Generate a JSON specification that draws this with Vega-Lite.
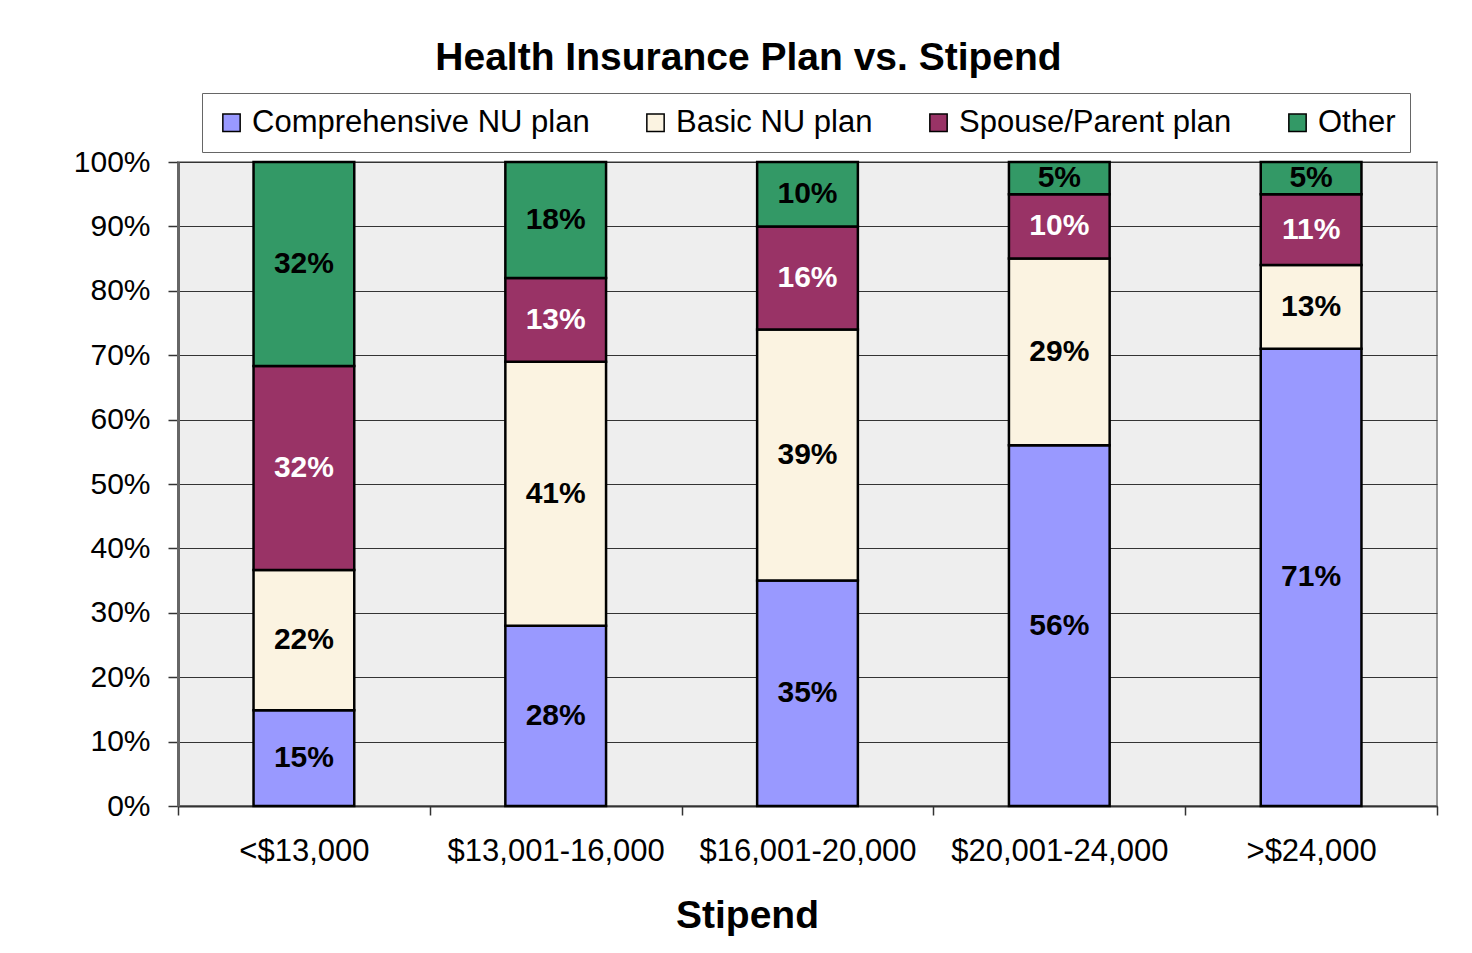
{
  "$schema": "https://vega.github.io/schema/vega-lite/v6.json",
  "width": 1259,
  "height": 644,
  "autosize": {"type": "none"},
  "padding": {"left": 178, "top": 162, "right": 35, "bottom": 147},
  "background": "white",
  "title": {
    "text": "Health Insurance Plan vs. Stipend",
    "anchor": "middle",
    "frame": "group",
    "dx": -59,
    "offset": 15,
    "font": "Liberation Sans",
    "fontSize": 39,
    "fontWeight": "bold",
    "color": "black"
  },
  "data": {
    "values": [
      {"stipend": "<$13,000", "plan": "Comprehensive NU plan", "rank": 1, "share": 0.15},
      {"stipend": "<$13,000", "plan": "Basic NU plan", "rank": 2, "share": 0.22},
      {"stipend": "<$13,000", "plan": "Spouse/Parent plan", "rank": 3, "share": 0.32},
      {"stipend": "<$13,000", "plan": "Other", "rank": 4, "share": 0.32},
      {"stipend": "$13,001-16,000", "plan": "Comprehensive NU plan", "rank": 1, "share": 0.28},
      {"stipend": "$13,001-16,000", "plan": "Basic NU plan", "rank": 2, "share": 0.41},
      {"stipend": "$13,001-16,000", "plan": "Spouse/Parent plan", "rank": 3, "share": 0.13},
      {"stipend": "$13,001-16,000", "plan": "Other", "rank": 4, "share": 0.18},
      {"stipend": "$16,001-20,000", "plan": "Comprehensive NU plan", "rank": 1, "share": 0.35},
      {"stipend": "$16,001-20,000", "plan": "Basic NU plan", "rank": 2, "share": 0.39},
      {"stipend": "$16,001-20,000", "plan": "Spouse/Parent plan", "rank": 3, "share": 0.16},
      {"stipend": "$16,001-20,000", "plan": "Other", "rank": 4, "share": 0.10},
      {"stipend": "$20,001-24,000", "plan": "Comprehensive NU plan", "rank": 1, "share": 0.56},
      {"stipend": "$20,001-24,000", "plan": "Basic NU plan", "rank": 2, "share": 0.29},
      {"stipend": "$20,001-24,000", "plan": "Spouse/Parent plan", "rank": 3, "share": 0.10},
      {"stipend": "$20,001-24,000", "plan": "Other", "rank": 4, "share": 0.05},
      {"stipend": ">$24,000", "plan": "Comprehensive NU plan", "rank": 1, "share": 0.71},
      {"stipend": ">$24,000", "plan": "Basic NU plan", "rank": 2, "share": 0.13},
      {"stipend": ">$24,000", "plan": "Spouse/Parent plan", "rank": 3, "share": 0.11},
      {"stipend": ">$24,000", "plan": "Other", "rank": 4, "share": 0.05}
    ]
  },
  "encoding": {
    "x": {
      "field": "stipend",
      "type": "nominal",
      "sort": null,
      "scale": {"paddingInner": 0, "paddingOuter": 0},
      "axis": {
        "title": "Stipend",
        "titleFont": "Liberation Sans",
        "titleFontSize": 39,
        "titleFontWeight": "bold",
        "titleColor": "black",
        "titleX": 569,
        "titleY": 121,
        "titleAlign": "center",
        "titleBaseline": "alphabetic",
        "labelAngle": 0,
        "labelFont": "Liberation Sans",
        "labelFontSize": 31,
        "labelColor": "black",
        "labelBaseline": "alphabetic",
        "labelPadding": 45,
        "labelLimit": 400,
        "tickBand": "extent",
        "ticks": true,
        "tickSize": 9,
        "tickColor": "#333",
        "tickWidth": 1.5,
        "domainColor": "#333",
        "domainWidth": 2,
        "grid": false
      }
    },
    "y": {
      "field": "share",
      "type": "quantitative",
      "stack": "normalize",
      "scale": {"domain": [0, 1]},
      "axis": {
        "title": null,
        "values": [0, 0.1, 0.2, 0.3, 0.4, 0.5, 0.6, 0.7, 0.8, 0.9, 1],
        "format": ".0%",
        "labelFont": "Liberation Sans",
        "labelFontSize": 30,
        "labelColor": "black",
        "labelPadding": 18,
        "tickSize": 10,
        "tickColor": "#333",
        "tickWidth": 1.5,
        "grid": true,
        "gridColor": "#333",
        "gridWidth": 1,
        "domainColor": "#666",
        "domainWidth": 3
      }
    },
    "order": {"field": "rank", "type": "quantitative"}
  },
  "layer": [
    {
      "mark": {"type": "bar", "stroke": "black", "strokeWidth": 2.5, "width": {"band": 0.4}},
      "encoding": {
        "color": {
          "field": "plan",
          "type": "nominal",
          "sort": ["Comprehensive NU plan", "Basic NU plan", "Spouse/Parent plan", "Other"],
          "scale": {
            "domain": ["Comprehensive NU plan", "Basic NU plan", "Spouse/Parent plan", "Other"],
            "range": ["#9999FF", "#FBF3E1", "#993366", "#339966"]
          },
          "legend": {
            "title": null,
            "orient": "none",
            "legendX": 24,
            "legendY": -69,
            "direction": "horizontal",
            "columns": 4,
            "strokeColor": "#666",
            "fillColor": "white",
            "padding": 14,
            "columnPadding": 50,
            "symbolType": "square",
            "symbolSize": 300,
            "symbolStrokeColor": "black",
            "symbolStrokeWidth": 1.5,
            "symbolOpacity": 1,
            "labelFont": "Liberation Sans",
            "labelFontSize": 31,
            "labelColor": "black",
            "labelOffset": 5,
            "labelLimit": 500
          }
        }
      }
    },
    {
      "mark": {
        "type": "text",
        "font": "Liberation Sans",
        "fontSize": 30,
        "fontWeight": "bold",
        "baseline": "middle",
        "align": "center"
      },
      "encoding": {
        "y": {"field": "share", "type": "quantitative", "stack": "normalize", "bandPosition": 0.5},
        "detail": {"field": "plan"},
        "text": {"field": "share", "type": "quantitative", "format": ".0%"},
        "color": {
          "condition": {"test": "datum.plan === 'Spouse/Parent plan'", "value": "white"},
          "value": "black"
        }
      }
    }
  ],
  "config": {
    "view": {"fill": "#EEEEEE", "stroke": "#999", "strokeWidth": 2}
  }
}
